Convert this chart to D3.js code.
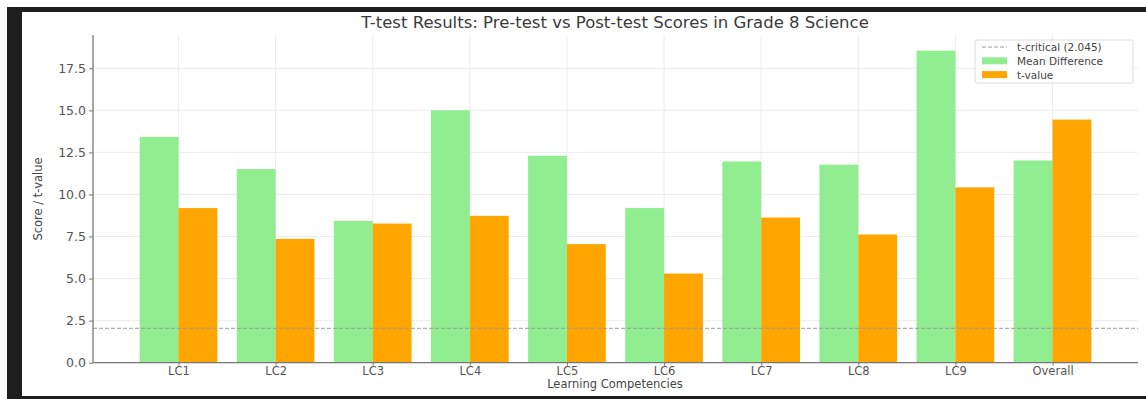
<!DOCTYPE html>
<html>
<head>
<meta charset="utf-8">
<script src="https://cdn.jsdelivr.net/npm/d3@7"></script>
<style>
  html, body { margin: 0; padding: 0; background: #ffffff; }
  svg { display: block; font-family: "DejaVu Sans", sans-serif; }
</style>
</head>
<body>
<svg id="chart" width="1146" height="399"></svg>
<script>
// Learning competencies and t-test results
const categories = ["LC1", "LC2", "LC3", "LC4", "LC5", "LC6", "LC7", "LC8", "LC9", "Overall"];
const meanDifference = [13.42, 11.51, 8.43, 15.0, 12.3, 9.19, 11.96, 11.77, 18.55, 12.02];
const tValue = [9.19, 7.36, 8.27, 8.73, 7.05, 5.3, 8.63, 7.62, 10.42, 14.45];
const tCritical = 2.045;
const yTicks = [0, 2.5, 5, 7.5, 10, 12.5, 15, 17.5];

const svg = d3.select("#chart");
const W = 1146, H = 399;

// outer frame
svg.append("rect").attr("x", 0).attr("y", 0).attr("width", W).attr("height", H).attr("fill", "#ffffff");
svg.append("rect").attr("x", 7).attr("y", 7).attr("width", W - 7).attr("height", 5).attr("fill", "#1e1e1e");
svg.append("rect").attr("x", 7).attr("y", 7).attr("width", 15).attr("height", H - 7).attr("fill", "#1e1e1e");
svg.append("rect").attr("x", 7).attr("y", 396).attr("width", W - 7).attr("height", 3).attr("fill", "#1e1e1e");

const plot = { left: 93, right: 1138, top: 35, bottom: 362.7 };

const n = categories.length;
const barW = 0.4;
const x = d3.scaleLinear()
  .domain([-barW - 0.049 * (n - 1 + 2 * barW), n - 1 + barW + 0.049 * (n - 1 + 2 * barW)])
  .range([plot.left, plot.right]);
const yMax = d3.max(meanDifference.concat(tValue)) * 1.05;
const y = d3.scaleLinear().domain([0, yMax]).range([plot.bottom, plot.top]);

const g = svg.append("g");

// grid
g.append("g").selectAll("line").data(yTicks).join("line")
  .attr("x1", plot.left).attr("x2", plot.right)
  .attr("y1", d => y(d)).attr("y2", d => y(d))
  .attr("stroke", "#ececec").attr("stroke-width", 1);
g.append("g").selectAll("line").data(categories).join("line")
  .attr("x1", (d, i) => x(i)).attr("x2", (d, i) => x(i))
  .attr("y1", plot.top).attr("y2", plot.bottom)
  .attr("stroke", "#ececec").attr("stroke-width", 1);

// bars
g.append("g").selectAll("rect").data(meanDifference).join("rect")
  .attr("x", (d, i) => x(i - barW))
  .attr("width", (d, i) => x(i) - x(i - barW))
  .attr("y", d => y(d))
  .attr("height", d => y(0) - y(d))
  .attr("fill", "#90ee90");
g.append("g").selectAll("rect").data(tValue).join("rect")
  .attr("x", (d, i) => x(i))
  .attr("width", (d, i) => x(i + barW) - x(i))
  .attr("y", d => y(d))
  .attr("height", d => y(0) - y(d))
  .attr("fill", "#ffa500");

// t-critical reference line
g.append("line")
  .attr("x1", plot.left).attr("x2", plot.right)
  .attr("y1", y(tCritical)).attr("y2", y(tCritical))
  .attr("stroke", "#9a9a9a").attr("stroke-width", 1)
  .attr("stroke-dasharray", "4,2");

// axes
const yAxis = d3.axisLeft(y).tickValues(yTicks).tickFormat(d3.format(".1f")).tickSize(4).tickPadding(3);
const yG = svg.append("g").attr("transform", `translate(${plot.left},0)`).call(yAxis);
yG.select(".domain").attr("d", `M0,${plot.top}V${plot.bottom}`);

const xAxis = d3.axisBottom(x).tickValues(d3.range(n)).tickFormat(i => categories[i]).tickSize(3).tickPadding(1.5);
const xG = svg.append("g").attr("transform", `translate(0,${plot.bottom})`).call(xAxis);
xG.select(".domain").attr("d", `M${plot.left},0H${plot.right}`);

[yG, xG].forEach(a => {
  a.select(".domain").attr("stroke", "#777").attr("stroke-width", 1.3);
  a.selectAll(".tick line").attr("stroke", "#777");
  a.selectAll(".tick text").attr("fill", "#555")
    .attr("font-family", "DejaVu Sans, sans-serif");
});
yG.selectAll(".tick text").attr("font-size", 12.5);
xG.selectAll(".tick text").attr("font-size", 11.5);

// titles
svg.append("text").attr("x", 615).attr("y", 28).attr("text-anchor", "middle")
  .attr("font-size", 16.5).attr("fill", "#3a3a3a").text("T-test Results: Pre-test vs Post-test Scores in Grade 8 Science");
svg.append("text").attr("x", 615).attr("y", 388).attr("text-anchor", "middle")
  .attr("font-size", 11.5).attr("fill", "#444").text("Learning Competencies");
svg.append("text").attr("transform", "translate(42,199) rotate(-90)")
  .attr("text-anchor", "middle").attr("font-size", 11.5).attr("fill", "#444").text("Score / t-value");

// legend
const lg = svg.append("g").attr("transform", "translate(975,40)");
lg.append("rect").attr("width", 158).attr("height", 43).attr("rx", 2)
  .attr("fill", "#ffffff").attr("fill-opacity", 0.85).attr("stroke", "#dddddd");
const items = [
  { label: "t-critical (2.045)", type: "line" },
  { label: "Mean Difference", type: "bar", color: "#90ee90" },
  { label: "t-value", type: "bar", color: "#ffa500" }
];
items.forEach((it, i) => {
  const cy = 7 + i * 13.8;
  if (it.type === "line") {
    lg.append("line").attr("x1", 7).attr("x2", 32).attr("y1", cy).attr("y2", cy)
      .attr("stroke", "#9a9a9a").attr("stroke-dasharray", "4,2");
  } else {
    lg.append("rect").attr("x", 7).attr("y", cy - 3.5).attr("width", 25).attr("height", 7).attr("fill", it.color);
  }
  lg.append("text").attr("x", 42).attr("y", cy + 4).attr("font-size", 10.5).attr("fill", "#444").text(it.label);
});
</script>
</body>
</html>
